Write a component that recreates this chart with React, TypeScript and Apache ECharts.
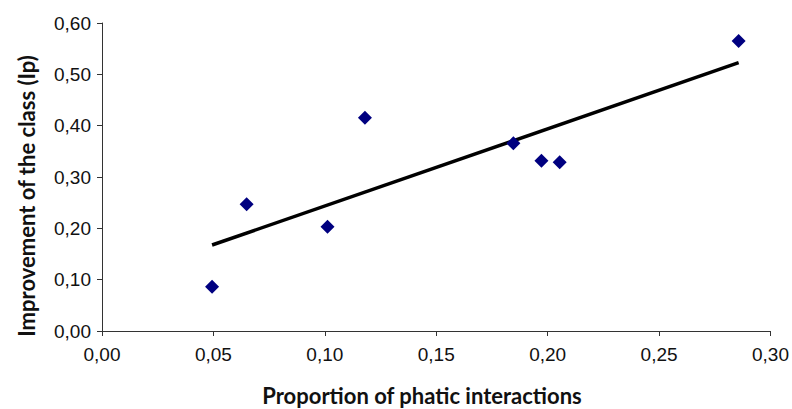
import React, { useEffect, useRef } from "react";
import * as echarts from "echarts";

const phaticProportion = [0.0494, 0.0649, 0.1012, 0.118, 0.1846, 0.1972, 0.2054, 0.2857];
const classImprovement = [0.0863, 0.247, 0.203, 0.4155, 0.3656, 0.3318, 0.3286, 0.565];
const trendX = [0.0494, 0.2857];
const trendY = [0.1675, 0.5227];
const xTitle = "Proportion of phatic interactions";
const yTitle = "Improvement of the class (Ip)";

const fmt = (v: number) => v.toFixed(2).replace(".", ",");

export default function App() {
  const ref = useRef<HTMLDivElement>(null);
  useEffect(() => {
    if (!ref.current) return;
    const chart = echarts.init(ref.current, null, { renderer: "svg" });
    chart.setOption({
      animation: false,
      backgroundColor: "#ffffff",
      grid: { left: 102, right: 20, top: 23, bottom: 78, containLabel: false },
      xAxis: {
        type: "value",
        min: 0,
        max: 0.3,
        interval: 0.05,
        axisLine: { show: true, onZero: false, lineStyle: { color: "#333", width: 1 } },
        axisTick: { show: true, length: 5, lineStyle: { color: "#333" } },
        splitLine: { show: false },
        axisLabel: {
          formatter: fmt,
          fontFamily: "Liberation Sans, Arial",
          fontSize: 19,
          color: "#111",
          margin: 14,
        },
      },
      yAxis: {
        type: "value",
        min: 0,
        max: 0.6,
        interval: 0.1,
        axisLine: { show: true, lineStyle: { color: "#333", width: 1 } },
        axisTick: { show: true, length: 5, lineStyle: { color: "#333" } },
        splitLine: { show: false },
        axisLabel: {
          formatter: fmt,
          fontFamily: "Liberation Sans, Arial",
          fontSize: 19,
          color: "#111",
          margin: 11,
        },
      },
      graphic: [
        {
          type: "text",
          x: 422,
          y: 395,
          style: {
            text: xTitle,
            font: "bold 22px Lato, 'Open Sans', sans-serif",
            fill: "#111",
            textAlign: "center",
            textVerticalAlign: "middle",
          },
        },
        {
          type: "text",
          x: 26,
          y: 196,
          rotation: Math.PI / 2,
          style: {
            text: yTitle,
            font: "bold 22px Lato, 'Open Sans', sans-serif",
            fill: "#111",
            textAlign: "center",
            textVerticalAlign: "middle",
          },
        },
      ],
      series: [
        {
          type: "line",
          data: trendX.map((x, i) => [x, trendY[i]]),
          symbol: "none",
          lineStyle: { color: "#000", width: 3.5 },
          z: 2,
        },
        {
          type: "scatter",
          data: phaticProportion.map((x, i) => [x, classImprovement[i]]),
          symbol: "diamond",
          symbolSize: [14, 14],
          itemStyle: { color: "#000080", opacity: 1 },
          z: 3,
        },
      ],
    });
    return () => chart.dispose();
  }, []);
  return <div ref={ref} style={{ width: 792, height: 409, position: "absolute", left: 0, top: 0 }} />;
}
